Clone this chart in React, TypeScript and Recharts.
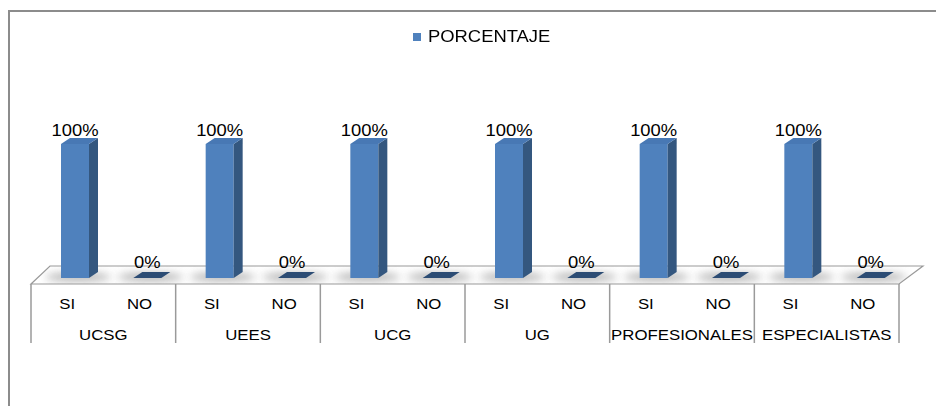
import { BarChart, Bar, XAxis, YAxis, Legend, LabelList } from 'recharts';

const grupos = ['UCSG', 'UEES', 'UCG', 'UG', 'PROFESIONALES', 'ESPECIALISTAS'];
const respuestas = ['SI', 'NO'];
const porcentaje = [100, 0, 100, 0, 100, 0, 100, 0, 100, 0, 100, 0];

const data = grupos.flatMap((grupo, gi) =>
  respuestas.map((respuesta, ri) => ({
    key: `${grupo}-${respuesta}`,
    grupo,
    respuesta,
    porcentaje: porcentaje[gi * respuestas.length + ri],
  }))
);

const W = 936;
const H = 406;
const MARGIN = { top: 144, right: 37, bottom: 63, left: 31 };
const AXIS_H = 65;
const BAND = (W - MARGIN.left - MARGIN.right) / data.length;
const BAR_SIZE = 28;
const SHIFT = 8; // bars sit half way back on the floor
const DX = 9;
const DY = 6;
const FONT = '"Liberation Sans", Arial, sans-serif';
const STRETCH = 1.15;

const FRONT = '#4F81BD';
const SIDE = '#34577F';
const TOP = '#4878B4';
const FLAT = '#2C4C74';

// floor of the 3D plot plus soft shadows under each column
const renderFloor = (props: any) => {
  const { x, y, width, height, index } = props;
  const bottom = y + height;
  const left = MARGIN.left;
  const right = W - MARGIN.right;
  const floor = `${left},${bottom + 6} ${right},${bottom + 6} ${right + 24},${bottom - 12} ${left + 19},${bottom - 12}`;
  const cx = x + SHIFT + width / 2 + 3;
  return (
    <g>
      {index === 0 && (
        <>
          <defs>
            <filter id="floorBlur" x="-50%" y="-200%" width="200%" height="500%">
              <feGaussianBlur stdDeviation="4" />
            </filter>
            <clipPath id="floorClip">
              <polygon points={floor} />
            </clipPath>
          </defs>
          <polygon points={floor} fill="#fff" stroke="#9a9a9a" strokeWidth={1.2} />
        </>
      )}
      <g clipPath="url(#floorClip)">
        <ellipse cx={cx} cy={bottom - 1} rx={33} ry={4} fill="#999" opacity={0.8} filter="url(#floorBlur)" />
      </g>
    </g>
  );
};

const Bar3D = (props: any) => {
  const { x, y, width, height } = props;
  const fx = x + SHIFT;
  const bottom = y + height;
  if (!height || height < 1) {
    return (
      <polygon
        points={`${fx},${bottom} ${fx + width},${bottom} ${fx + width + DX},${bottom - DY} ${fx + DX},${bottom - DY}`}
        fill={FLAT}
      />
    );
  }
  return (
    <g>
      <rect x={fx} y={y} width={width} height={height} fill={FRONT} />
      <polygon
        points={`${fx + width},${y} ${fx + width + DX},${y - DY} ${fx + width + DX},${bottom - DY} ${fx + width},${bottom}`}
        fill={SIDE}
      />
      <polygon
        points={`${fx},${y} ${fx + width},${y} ${fx + width + DX},${y - DY} ${fx + DX},${y - DY}`}
        fill={TOP}
      />
    </g>
  );
};

const renderValue = (props: any) => {
  const { x, y, width, value } = props;
  const cx = x + SHIFT + width / 2;
  const lift = value === 0 ? 10 : 8;
  return (
    <text
      transform={`translate(${cx},${y - lift}) scale(${STRETCH},1)`}
      textAnchor="middle"
      fontFamily={FONT}
      fontSize={16}
      fill="#000"
    >
      {`${value}%`}
    </text>
  );
};

// two-level category axis: answer on top, group name below, separators between groups
const renderTick = (props: any) => {
  const { x, y, index } = props;
  const row = data[index];
  if (!row) return null;
  const isLast = index === data.length - 1;
  return (
    <g>
      {index % 2 === 0 && (
        <line x1={x - BAND / 2} x2={x - BAND / 2} y1={y + 6} y2={y + AXIS_H} stroke="#9a9a9a" strokeWidth={1.5} />
      )}
      {isLast && (
        <line x1={x + BAND / 2} x2={x + BAND / 2} y1={y + 6} y2={y + AXIS_H} stroke="#9a9a9a" strokeWidth={1.5} />
      )}
      <text
        transform={`translate(${x},${y + 31}) scale(1.2,1)`}
        textAnchor="middle"
        fontFamily={FONT}
        fontSize={14}
        fill="#000"
      >
        {row.respuesta}
      </text>
      {index % 2 === 1 && (
        <text
          transform={`translate(${x - BAND / 2},${y + 62}) scale(1.2,1)`}
          textAnchor="middle"
          fontFamily={FONT}
          fontSize={14}
          fill="#000"
        >
          {row.grupo}
        </text>
      )}
    </g>
  );
};

const renderLegend = () => (
  <div style={{ display: 'flex', alignItems: 'center', height: 20, fontFamily: FONT }}>
    <span style={{ width: 8, height: 8, background: FRONT, marginRight: 7 }} />
    <span
      style={{
        fontSize: 16,
        color: '#000',
        display: 'inline-block',
        transform: `scaleX(${STRETCH})`,
        transformOrigin: 'left center',
      }}
    >
      PORCENTAJE
    </span>
  </div>
);

export default function App() {
  return (
    <div style={{ position: 'relative', width: W, height: H, overflow: 'hidden', background: '#fff' }}>
      <style>{'body{margin:0;overflow:hidden}'}</style>
      <div
        style={{
          position: 'absolute',
          left: 8,
          top: 10,
          width: 1000,
          height: 1000,
          borderTop: '2px solid #8c8c8c',
          borderLeft: '2px solid #8c8c8c',
        }}
      />
      <div style={{ position: 'absolute', left: 0, top: 0 }}>
        <BarChart width={W} height={H} data={data} margin={MARGIN} barSize={BAR_SIZE}>
          <XAxis
            dataKey="key"
            height={AXIS_H}
            interval={0}
            axisLine={false}
            tickLine={false}
            tickSize={0}
            tickMargin={0}
            tick={renderTick}
          />
          <YAxis hide domain={[0, 100]} />
          <Legend
            verticalAlign="middle"
            layout="horizontal"
            content={renderLegend}
            wrapperStyle={{ top: 27, left: 413, width: 'auto' }}
          />
          <Bar
            dataKey="porcentaje"
            name="PORCENTAJE"
            isAnimationActive={false}
            background={renderFloor}
            shape={Bar3D}
          >
            <LabelList dataKey="porcentaje" content={renderValue} />
          </Bar>
        </BarChart>
      </div>
    </div>
  );
}
